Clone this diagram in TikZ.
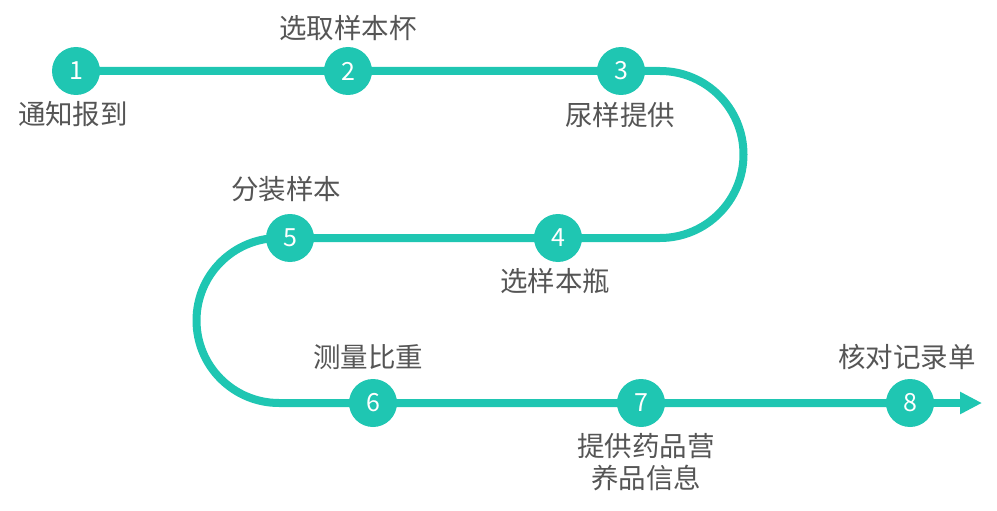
\documentclass[tikz,border=0pt]{standalone}
\usepackage{fontspec}
\newfontfamily\cjk{Noto Sans CJK SC}
\usetikzlibrary{arrows.meta,backgrounds}
\definecolor{teal1}{HTML}{1FC6B2}
\definecolor{txtgray}{HTML}{555555}
\begin{document}
\begin{tikzpicture}[x=1pt,y=1pt,
  stepdot/.style={circle,fill=teal1,minimum size=48pt,inner sep=0pt,text=white,font=\cjk\fontsize{25}{25}\selectfont},
  steplabel/.style={text=txtgray,font=\cjk\fontsize{27.5}{32}\selectfont,inner sep=0pt,align=center},
  track/.style={draw=teal1,line width=8pt}]
\useasboundingbox (0,0) rectangle (997,-511);
\node[stepdot] (n1) at (76,-71) {1};
\node[stepdot] (n2) at (348,-71) {2};
\node[stepdot] (n3) at (621,-71) {3};
\node[stepdot] (n4) at (558,-238) {4};
\node[stepdot] (n5) at (290,-238) {5};
\node[stepdot] (n6) at (373,-403) {6};
\node[stepdot] (n7) at (641,-403) {7};
\node[stepdot] (n8) at (910,-403) {8};
\coordinate (tip) at (982,-403);
\node[steplabel] (l1) at (73,-114) {通知报到};
\node[steplabel] (l2) at (348,-28) {选取样本杯};
\node[steplabel] (l3) at (620,-115) {尿样提供};
\node[steplabel] (l4) at (555,-281) {选样本瓶};
\node[steplabel] (l5) at (286,-189) {分装样本};
\node[steplabel] (l6) at (368,-357) {测量比重};
\node[steplabel] (l7) at (646,-462) {提供药品营\\养品信息};
\node[steplabel] (l8) at (907,-357) {核对记录单};
\begin{scope}[on background layer]
\draw[track] (n1.center) -- (n2.center) -- (n3.center) -- (660,-71)
  arc[start angle=90,end angle=-90,radius=83.5] -- (n4.center) -- (n5.center) -- (279,-238)
  arc[start angle=90,end angle=270,radius=82.5] -- (n6.center) -- (n7.center) -- (n8.center);
\draw[track,-{Triangle[length=22pt,width=21pt]}] (n8.center) -- (tip);
\end{scope}
\end{tikzpicture}
\end{document}
